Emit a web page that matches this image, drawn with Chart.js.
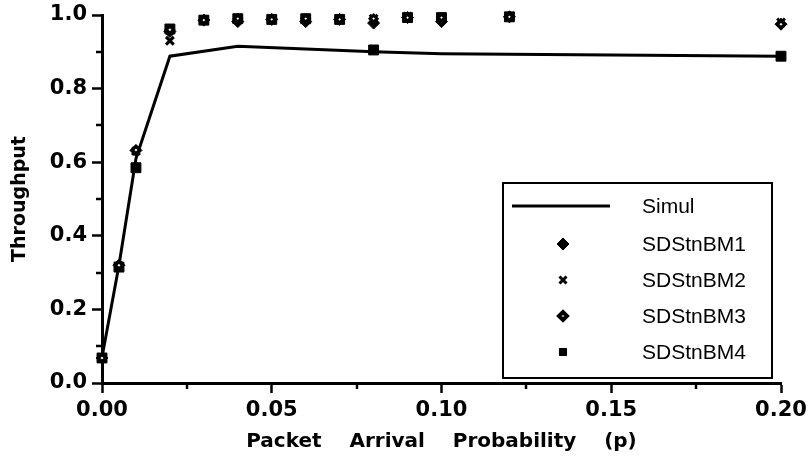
<!DOCTYPE html>
<html>
<head>
<meta charset="utf-8">
<script src="https://cdn.jsdelivr.net/npm/chart.js@4.4.1/dist/chart.umd.min.js"></script>
<style>
  html, body { margin: 0; padding: 0; background: #fff; }
  #wrap { width: 810px; height: 463px; }
</style>
</head>
<body>
<div id="wrap"><canvas id="c" width="810" height="463"></canvas></div>
<script>
// Packet arrival probability (p) values
const probs = [0, 0.005, 0.01, 0.02, 0.03, 0.04, 0.05, 0.06, 0.07, 0.08, 0.09, 0.10, 0.12, 0.20];
// Simulation curve
const simulProbs = [0, 0.005, 0.01, 0.02, 0.04, 0.08, 0.10, 0.20];
const simulThroughput = [0.07, 0.32, 0.61, 0.888, 0.915, 0.90, 0.895, 0.888];
// Analytical model results
const bm1 = [0.068, 0.32, 0.632, 0.955, 0.986, 0.982, 0.988, 0.982, 0.988, 0.978, 0.993, 0.982, 0.995, 0.975];
const bm2 = [0.068, 0.318, 0.63, 0.93, 0.986, 0.99, 0.988, 0.99, 0.988, 0.99, 0.996, 0.993, 0.995, 0.98];
const bm3 = [0.068, 0.32, 0.633, 0.96, 0.986, 0.99, 0.988, 0.99, 0.988, 0.99, 0.993, 0.993, 0.995, 0.975];
const bm4 = [0.068, 0.315, 0.585, 0.962, 0.986, 0.99, 0.988, 0.99, 0.988, 0.905, 0.993, 0.993, 0.995, 0.888];
// Axis tick values
const xTicks = [0, 0.05, 0.10, 0.15, 0.20];
const xMinorTicks = [0.025, 0.075, 0.125, 0.175];
const yTicks = [0, 0.2, 0.4, 0.6, 0.8, 1.0];
const yMinorTicks = [0.1, 0.3, 0.5, 0.7, 0.9];

const pts = (xs, ys) => xs.map((x, i) => ({ x, y: ys[i] }));

// lower "order" is painted on top
const datasets = [
  { label: 'Simul', data: pts(simulProbs, simulThroughput), showLine: true,
    borderColor: '#000', borderWidth: 3, pointRadius: 0, fill: false, order: 5, clip: false },
  { label: 'SDStnBM1', data: pts(probs, bm1), pointStyle: 'rectRot', pointRadius: 6,
    backgroundColor: '#000', borderColor: '#000', borderWidth: 1, order: 2, clip: false },
  { label: 'SDStnBM2', data: pts(probs, bm2), pointStyle: 'crossRot', pointRadius: 5.5,
    backgroundColor: '#000', borderColor: '#000', borderWidth: 3, order: 3, clip: false },
  { label: 'SDStnBM3', data: pts(probs, bm3), pointStyle: 'rectRot', pointRadius: 3.5,
    backgroundColor: '#fff', borderColor: '#000', borderWidth: 3, order: 0, clip: false },
  { label: 'SDStnBM4', data: pts(probs, bm4), pointStyle: 'rect', pointRadius: 7,
    backgroundColor: '#000', borderColor: '#000', borderWidth: 1, order: 1, clip: false }
];

// Short minor tick marks between the labelled ones
const minorTicks = {
  id: 'minorTicks',
  afterDatasetsDraw(chart) {
    const ctx = chart.ctx, xs = chart.scales.x, ys = chart.scales.y;
    const a = chart.chartArea;
    ctx.save();
    ctx.strokeStyle = '#000';
    ctx.lineWidth = 2.5;
    ctx.beginPath();
    xMinorTicks.forEach(v => {
      const px = Math.round(xs.getPixelForValue(v));
      ctx.moveTo(px, a.bottom);
      ctx.lineTo(px, a.bottom + 6);
    });
    yMinorTicks.forEach(v => {
      const py = Math.round(ys.getPixelForValue(v));
      ctx.moveTo(a.left, py);
      ctx.lineTo(a.left - 6, py);
    });
    ctx.stroke();
    ctx.restore();
  }
};

// Boxed legend inside the plot area
const boxLegend = {
  id: 'boxLegend',
  afterDraw(chart) {
    const ctx = chart.ctx;
    const box = { left: 503, top: 183, right: 772, bottom: 378 };
    const rows = [206, 244, 280, 316, 352];
    const markX = 563, textX = 642;
    const sizes = { SDStnBM1: 6, SDStnBM2: 5, SDStnBM3: 4, SDStnBM4: 5 };
    const widths = { SDStnBM1: 1, SDStnBM2: 3, SDStnBM3: 4, SDStnBM4: 1 };
    ctx.save();
    ctx.fillStyle = '#fff';
    ctx.fillRect(box.left, box.top, box.right - box.left, box.bottom - box.top);
    ctx.strokeStyle = '#000';
    ctx.lineWidth = 2;
    ctx.strokeRect(box.left, box.top, box.right - box.left, box.bottom - box.top);
    ctx.font = '21px "Liberation Sans", Arial, sans-serif';
    ctx.textBaseline = 'middle';
    ctx.textAlign = 'left';
    chart.data.datasets.forEach((ds, i) => {
      const y = rows[i];
      if (ds.showLine) {
        ctx.strokeStyle = ds.borderColor;
        ctx.lineWidth = ds.borderWidth;
        ctx.beginPath();
        ctx.moveTo(512, y);
        ctx.lineTo(610, y);
        ctx.stroke();
      } else {
        ctx.strokeStyle = ds.borderColor;
        ctx.fillStyle = ds.backgroundColor;
        ctx.lineWidth = widths[ds.label];
        Chart.helpers.drawPoint(ctx, { pointStyle: ds.pointStyle, radius: sizes[ds.label], rotation: 0, borderWidth: widths[ds.label] }, markX, y);
      }
      ctx.fillStyle = '#000';
      ctx.fillText(ds.label, textX, y + 1);
    });
    ctx.restore();
  }
};

const tickFont = { family: '"DejaVu Sans", sans-serif', size: 21, weight: 'bold' };
const titleFont = { family: '"DejaVu Sans", sans-serif', size: 19, weight: 'bold' };

new Chart(document.getElementById('c'), {
  type: 'scatter',
  data: { datasets },
  plugins: [minorTicks, boxLegend],
  options: {
    responsive: false,
    animation: false,
    layout: { padding: { top: 15, right: 29, bottom: 0, left: 0 } },
    plugins: { legend: { display: false }, tooltip: { enabled: false } },
    scales: {
      x: {
        type: 'linear', min: 0, max: 0.2,
        afterBuildTicks: s => { s.ticks = xTicks.map(v => ({ value: v })); },
        afterFit: s => { s.height = 80; s.paddingLeft = 0; s.paddingRight = 0; },
        ticks: { color: '#000', font: tickFont, padding: 5, maxRotation: 0,
                 callback: v => v.toFixed(2) },
        grid: { drawOnChartArea: false, tickLength: 10, tickWidth: 2.5, tickColor: '#000' },
        border: { display: true, color: '#000', width: 3 },
        title: { display: true, text: 'Packet    Arrival    Probability    (p)', color: '#000',
                 font: { family: '"DejaVu Sans", sans-serif', size: 20, weight: 'bold' },
                 padding: { top: 4, bottom: 9 } }
      },
      y: {
        type: 'linear', min: 0, max: 1,
        afterBuildTicks: s => { s.ticks = yTicks.map(v => ({ value: v })); },
        afterFit: s => { s.width = 102; s.paddingTop = 0; s.paddingBottom = 0; },
        ticks: { color: '#000', font: tickFont, padding: 5, callback: v => v.toFixed(1) },
        grid: { drawOnChartArea: false, tickLength: 10, tickWidth: 2.5, tickColor: '#000' },
        border: { display: true, color: '#000', width: 3 },
        title: { display: true, text: 'Throughput', color: '#000',
                 font: titleFont, padding: { top: 9, bottom: 4 } }
      }
    }
  }
});
</script>
</body>
</html>
